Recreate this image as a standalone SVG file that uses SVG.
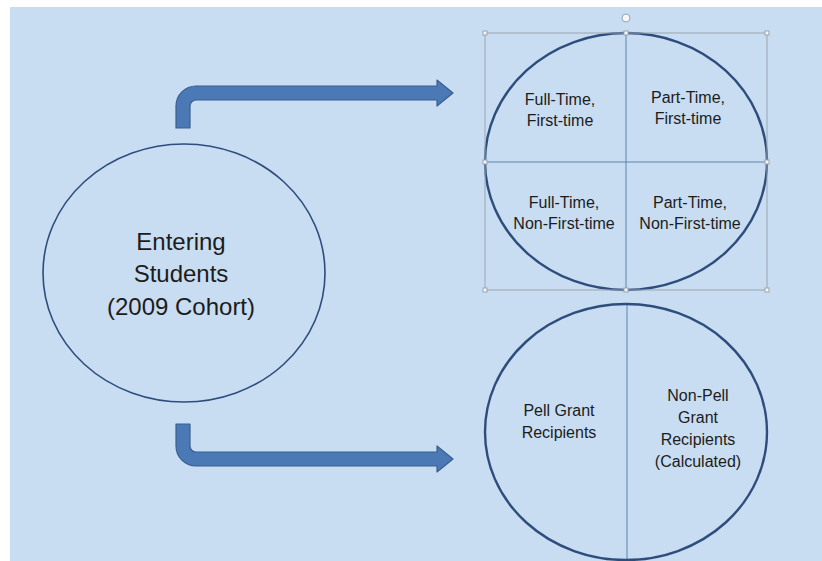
<svg xmlns="http://www.w3.org/2000/svg" width="822" height="561" viewBox="0 0 822 561">
<defs>
<style>
.bg{fill:#c8ddf2}
.oval{fill:none;stroke:#2e4d7c}
.div{stroke:#5d82b0;stroke-width:1}
.sel{fill:none;stroke:#9aa5b1;stroke-width:1}
.hdl{fill:#f4f6f8;stroke:#9aa5b1;stroke-width:1}
.arrow{fill:#4a79b5;stroke:#3b5f8f;stroke-width:1.2;stroke-linejoin:round}
text{font-family:"Liberation Sans",Arial,sans-serif;fill:#1c1c1c;text-anchor:middle}
.big{font-size:24px}
.sm{font-size:16px}
</style>
</defs>
<rect x="0" y="0" width="822" height="561" fill="#ffffff"/>
<rect class="bg" x="10" y="7" width="812" height="554"/>

<g id="connectors">
<path class="arrow" d="M176,128 V106 A20,20 0 0 1 196,86 H437 V80 L453,93 L437,106 V100 H196 A6,6 0 0 0 190,106 V128 Z"/>
<path class="arrow" d="M176,424 V446 A20,20 0 0 0 196,466 H437 V472 L453,459 L437,446 V452 H196 A6,6 0 0 1 190,446 V424 Z"/>
</g>

<g id="entering">
<ellipse class="oval" cx="184" cy="273" rx="141" ry="129" stroke-width="1.6"/>
<text class="big" x="181" y="250">Entering</text>
<text class="big" x="181" y="282">Students</text>
<text class="big" x="181" y="315">(2009 Cohort)</text>
</g>

<g id="enrollment">
<line class="div" x1="626" y1="33" x2="626" y2="290"/>
<line class="div" x1="485" y1="162" x2="767" y2="162"/>
<ellipse class="oval" cx="626" cy="161.5" rx="141" ry="128.5" stroke-width="2.4"/>
<rect class="sel" x="485" y="33" width="282" height="257"/>
<circle class="hdl" cx="626" cy="18" r="4"/>
<rect class="hdl" x="483" y="31" width="4" height="4"/>
<rect class="hdl" x="624" y="31" width="4" height="4"/>
<rect class="hdl" x="765" y="31" width="4" height="4"/>
<rect class="hdl" x="483" y="160" width="4" height="4"/>
<rect class="hdl" x="765" y="160" width="4" height="4"/>
<rect class="hdl" x="483" y="288" width="4" height="4"/>
<rect class="hdl" x="624" y="288" width="4" height="4"/>
<rect class="hdl" x="765" y="288" width="4" height="4"/>
<text class="sm" x="560" y="105">Full-Time,</text>
<text class="sm" x="560" y="126">First-time</text>
<text class="sm" x="688" y="103">Part-Time,</text>
<text class="sm" x="688" y="124">First-time</text>
<text class="sm" x="564" y="208">Full-Time,</text>
<text class="sm" x="564" y="229">Non-First-time</text>
<text class="sm" x="690" y="208">Part-Time,</text>
<text class="sm" x="690" y="229">Non-First-time</text>
</g>

<g id="pell">
<line class="div" x1="627" y1="304" x2="627" y2="561"/>
<ellipse class="oval" cx="626" cy="432" rx="141" ry="128" stroke-width="2.4"/>
<text class="sm" x="559" y="416">Pell Grant</text>
<text class="sm" x="559" y="438">Recipients</text>
<text class="sm" x="698" y="401">Non-Pell</text>
<text class="sm" x="698" y="423">Grant</text>
<text class="sm" x="698" y="445">Recipients</text>
<text class="sm" x="698" y="467">(Calculated)</text>
</g>
</svg>
